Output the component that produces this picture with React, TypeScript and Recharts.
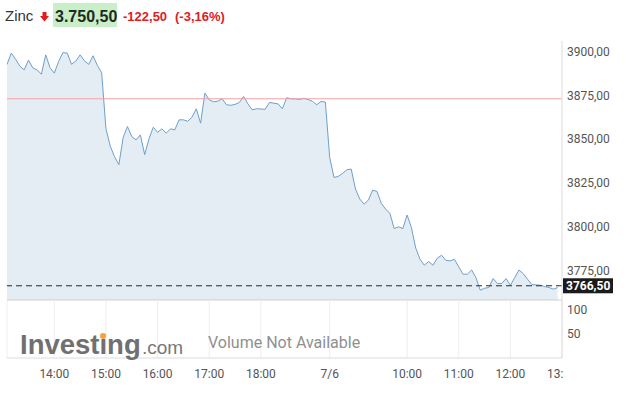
import { AreaChart, Area, ComposedChart, Line, XAxis, YAxis, CartesianGrid, ReferenceLine } from "recharts"

// 5-minute closes
const prices = [
  3892.6, 3899, 3895.5, 3891.5, 3889.5, 3895, 3890.6, 3889.4, 3887, 3898,
  3890.7, 3887.6, 3894.3, 3899.3, 3899, 3892.6, 3894.5, 3898, 3894.6, 3892.6,
  3897.5, 3892, 3887.8, 3856, 3846, 3840, 3835.5, 3851, 3857.2, 3851.5,
  3849.6, 3852.4, 3841.2, 3850.2, 3856.8, 3853.9, 3855.9, 3853.4, 3855.9, 3855.3,
  3861, 3861, 3860.2, 3862.5, 3867.3, 3859.1, 3876.2, 3872.4, 3871.3, 3871.6,
  3873, 3869.6, 3869.3, 3869.8, 3870.9, 3874.3, 3870.1, 3866.7, 3867.3, 3867.2,
  3867, 3870.9, 3870.5, 3870.1, 3867.3, 3873.6, 3873, 3873, 3872.6, 3873.3,
  3872.6, 3871.5, 3869.6, 3871.5, 3871.1, 3839.7, 3828.2, 3828.8, 3830.5, 3832.6,
  3833, 3821.6, 3815.9, 3813, 3815.3, 3821, 3820.2, 3813.4, 3810.2, 3807.7,
  3799.1, 3800.1, 3799.1, 3806.8, 3799.7, 3788, 3781.6, 3778.2, 3780.3, 3778.2,
  3782.2, 3783.9, 3781, 3780.7, 3781.6, 3777.3, 3773.1, 3773.1, 3775.5, 3771.1,
  3764, 3765.1, 3765.5, 3770.6, 3767.8, 3767.8, 3770.6, 3766.8, 3771.1, 3775.5,
  3773.4, 3770.2, 3767.2, 3767, 3766.8, 3766, 3765.5, 3764.6, 3765.5,
]
const volume: number[] = []

const timeTicks = [11, 23, 35, 47, 59, 75, 93, 105, 117, 129]
const timeLabels = ["14:00", "15:00", "16:00", "17:00", "18:00", "7/6", "10:00", "11:00", "12:00", "13:00"]
const priceTicks = [3775, 3800, 3825, 3850, 3875, 3900]
const volumeTicks = [50, 100]

const prevClose = 3873
const lastPrice = 3766.5
const headerPrice = "3.750,50"
const headerChange = "-122,50"
const headerPct = "(-3,16%)"

const data = prices.map((v, i) => ({ i, v, vol: volume[i] ?? null }))

const fmt = (v: number) => v.toFixed(2).replace(".", ",")
const axisFont = { fill: "#555", fontSize: 12, fontFamily: "Roboto" }

function TimeTick(props: any) {
  const { x, y, payload } = props
  const idx = timeTicks.indexOf(payload.value)
  const last = idx === timeTicks.length - 1
  return (
    <g>
      {last && (
        <defs>
          <clipPath id="lastTickClip">
            <rect x={0} y={0} width={563} height={100} />
          </clipPath>
        </defs>
      )}
      <text
        x={x}
        y={y}
        dy={20}
        textAnchor="middle"
        {...axisFont}
        clipPath={last ? "url(#lastTickClip)" : undefined}
      >
        {timeLabels[idx]}
      </text>
    </g>
  )
}

function LastPriceLabel(props: any) {
  const { x, y, width } = props.viewBox
  return (
    <g>
      <rect x={x + width + 1} y={y - 7.5} width={50} height={15} fill="#1b1b1b" />
      <text x={x + width + 4} y={y + 4.5} fill="#fff" fontSize={12} fontWeight="bold" fontFamily="Roboto">
        {fmt(lastPrice)}
      </text>
    </g>
  )
}

export default function App() {
  return (
    <div style={{ position: "absolute", left: 0, top: 0, width: 626, height: 397, background: "#fff" }}>
      <div style={{ position: "absolute", left: 0, top: 0 }}>
        <AreaChart width={626} height={301} data={data} margin={{ top: 41, right: 0, bottom: 0, left: 7 }}>
          <XAxis
            dataKey="i"
            type="number"
            domain={[0, 129]}
            ticks={timeTicks}
            height={1}
            tick={false}
            tickLine={false}
            axisLine={{ stroke: "#cfcfcf" }}
          />
          <YAxis
            orientation="right"
            width={64}
            domain={[3758.4, 3905.9]}
            allowDataOverflow
            ticks={priceTicks}
            tickFormatter={fmt}
            tick={axisFont}
            tickLine={false}
            tickSize={0}
            tickMargin={5}
            axisLine={{ stroke: "#dcdcdc" }}
          />
          <Area
            type="linear"
            dataKey="v"
            stroke="#6e9fcc"
            strokeWidth={1}
            fill="#e4edf4"
            fillOpacity={1}
            isAnimationActive={false}
          />
          <ReferenceLine y={prevClose} stroke="#f4a3a3" strokeWidth={1} />
          <ReferenceLine
            y={lastPrice}
            stroke="#2a2a2a"
            strokeDasharray="6 4"
            label={<LastPriceLabel />}
          />
        </AreaChart>
      </div>
      <div style={{ position: "absolute", left: 0, top: 300 }}>
        <ComposedChart width={626} height={97} data={data} margin={{ top: 0, right: 0, bottom: 0, left: 7 }}>
          <CartesianGrid horizontal={false} stroke="#eeeeee" />
          <XAxis
            dataKey="i"
            type="number"
            domain={[0, 129]}
            ticks={timeTicks}
            interval={0}
            height={39}
            tick={<TimeTick />}
            tickLine={false}
            tickSize={0}
            tickMargin={0}
            axisLine={{ stroke: "#dcdcdc" }}
          />
          <YAxis
            orientation="right"
            width={64}
            type="number"
            domain={[0, 121]}
            allowDataOverflow
            ticks={volumeTicks}
            interval={0}
            tick={axisFont}
            tickLine={false}
            tickSize={0}
            tickMargin={5}
            axisLine={{ stroke: "#dcdcdc" }}
          />
          <Line dataKey="vol" stroke="#6e9fcc" dot={false} isAnimationActive={false} />
        </ComposedChart>
      </div>
      <svg width={626} height={397} style={{ position: "absolute", left: 0, top: 0, pointerEvents: "none" }}>
        <text x={5} y={21} fontSize={15} fontFamily="Liberation Sans, Arial" fill="#333">Zinc</text>
        <rect x={42.5} y={12} width={4} height={4.5} fill="#e21b1b" />
        <polygon points="40,16 49,16 44.5,21.5" fill="#e21b1b" />
        <rect x={53} y={3} width={64} height={24} fill="#c8efc8" />
        <text x={55} y={21.5} fontSize={16} fontWeight="bold" fontFamily="Liberation Sans, Arial" fill="#1f2a1f">{headerPrice}</text>
        <text x={123} y={21} fontSize={13} fontWeight="bold" fontFamily="Liberation Sans, Arial" fill="#e0201f">{headerChange}</text>
        <text x={175} y={21} fontSize={13} fontWeight="bold" fontFamily="Liberation Sans, Arial" fill="#e0201f">{headerPct}</text>
        <text x={20} y={354} fontSize={27.5} fontWeight="bold" fontFamily="Liberation Sans, Arial" fill="#707070">Investing</text>
        <text x={142} y={354} fontSize={19} fontFamily="Liberation Sans, Arial" fill="#777">.com</text>
        <circle cx={103} cy={336} r={3} fill="#f5a23a" />
        <text x={208} y={348} fontSize={16} fontFamily="Roboto" fill="#8f8f8f">Volume Not Available</text>
      </svg>
    </div>
  )
}
